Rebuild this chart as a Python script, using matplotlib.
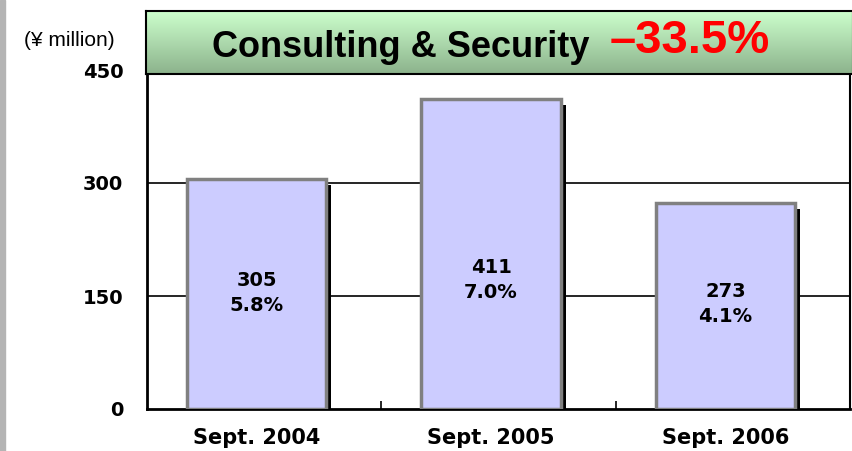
import numpy as np
import matplotlib
matplotlib.use('Agg')
import matplotlib.pyplot as plt
from matplotlib.patches import Rectangle

categories = ['Sept. 2004', 'Sept. 2005', 'Sept. 2006']
sales = [305, 411, 273]
shares = ['5.8%', '7.0%', '4.1%']
label_y = [154, 171, 139]
yticks = [0, 150, 300, 450]
title = 'Consulting & Security'
change = '\u201333.5%'

fig = plt.figure(figsize=(8.53, 4.51), dpi=100)
W, H = 853, 451


def frac(x0, y0, x1, y1):
    return [x0 / W, 1 - y1 / H, (x1 - x0) / W, (y1 - y0) / H]


# grey strip at the far left
fig.patches.append(Rectangle((0, 0), 5 / W, 1, transform=fig.transFigure,
                             color='#b4b4b4', zorder=0))

ax = fig.add_axes(frac(147, 70, 850, 409))
x = np.arange(len(categories))
xb = x - 0.032
ax.set_xlim(-0.5, 2.5)
ax.set_ylim(0, 450)

for v in [150, 300]:
    ax.axhline(v, color='black', lw=1.2, zorder=1)

# shadows
ax.bar(xb + 0.022, np.array(sales) - 4, bottom=-4, width=0.594, color='black', zorder=2)
ax.bar(xb, sales, width=0.594, color='#ccccff', edgecolor='#808080', linewidth=2.5, zorder=3)

for i in range(len(categories)):
    ax.text(xb[i], label_y[i], f'{sales[i]}\n{shares[i]}', ha='center', va='center',
            fontsize=14, fontweight='bold', family='DejaVu Sans', linespacing=1.4, zorder=4)

ax.set_yticks(yticks)
ax.set_yticklabels([str(t) for t in yticks], fontsize=14, fontweight='bold', family='DejaVu Sans')
ax.tick_params(axis='y', length=0, pad=17)
ax.set_xticks([0.5, 1.5])
ax.set_xticklabels([])
ax.tick_params(axis='x', direction='in', length=6, width=1.2)
for i, c in enumerate(categories):
    ax.text(xb[i], -38, c, ha='center', va='center', fontsize=15, fontweight='bold',
            family='DejaVu Sans')
for s in ax.spines.values():
    s.set_linewidth(1.5)
ax.spines['left'].set_linewidth(2)
ax.spines['bottom'].set_linewidth(2)

# title box with green gradient
tax = fig.add_axes(frac(146, 11, 853, 74))
grad = np.linspace(0, 1, 100).reshape(-1, 1)
top = np.array([0.80, 1.00, 0.80])
bot = np.array([0.55, 0.70, 0.55])
img = top + (bot - top) * grad[:, :, None]
tax.imshow(img, aspect='auto', extent=[0, 1, 0, 1])
tax.set_xlim(0, 1)
tax.set_ylim(0, 1)
tax.set_xticks([])
tax.set_yticks([])
for s in tax.spines.values():
    s.set_linewidth(1.5)
tax.text(66 / 707, 0.42, title, ha='left', va='center', fontsize=26, fontweight='bold',
         family='Liberation Sans', color='black')
tax.text(544 / 707, 0.52, change, ha='center', va='center', fontsize=34, fontweight='bold',
         family='Liberation Sans', color='#ff0000')

fig.text(69 / W, 1 - 40 / H, '(\u00a5 million)', ha='center', va='center', fontsize=15,
         family='Liberation Sans')

fig.savefig('out.png', dpi=100)
